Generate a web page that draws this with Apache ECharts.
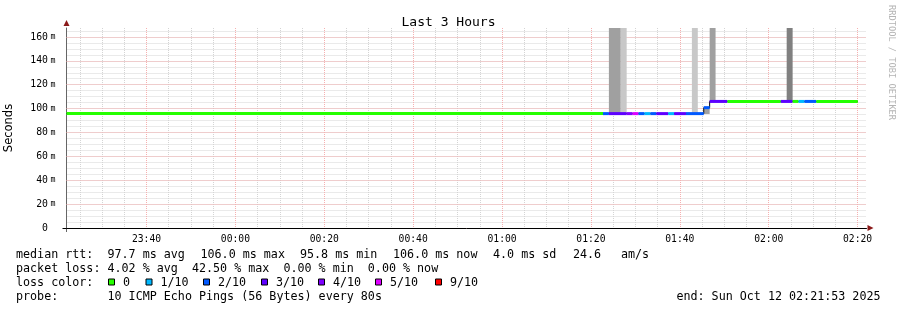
<!DOCTYPE html>
<html><head><meta charset="utf-8">
<script src="https://cdn.jsdelivr.net/npm/echarts@6/dist/echarts.min.js"></script>
<style>html,body{margin:0;padding:0;background:#fff}#c{width:897px;height:310px}</style>
</head><body><div id="c"></div>
<script>
// ---- time axis: minutes relative to 00:00 (Sun Oct 12) ----
const timeStart = -38.0;    // 23:22
const timeEnd = 142.0;      // 02:22
const yMax = 167.5;         // ms

// loss colour per lost pings (of 10)
const lossColors = {0:'#26ff00',1:'#00b8ff',2:'#0059ff',3:'#5e00ff',4:'#7e00ff',5:'#dd00ff',9:'#ff0000'};

// median rtt segments (minutes, ms, lost pings)
const segStart = [-38.0, 82.71, 84.04, 88.04, 89.38, 90.71, 92.04, 93.38, 94.71, 97.38, 98.71, 101.38, 105.38, 106.71, 110.71, 122.71, 125.38, 126.71, 128.04, 130.71];
const segEnd   = [82.71, 84.04, 88.04, 89.38, 90.71, 92.04, 93.38, 94.71, 97.38, 98.71, 101.38, 105.38, 106.71, 110.71, 122.71, 125.38, 126.71, 128.04, 130.71, 140.04];
const segValue = [ 95.8, 95.8, 95.8, 95.8, 95.8, 95.8, 95.8, 95.8, 95.8, 95.8, 95.8, 95.8, 100.8, 106.0, 106.0, 106.0, 106.0, 106.0, 106.0, 106.0];
const segLoss  = [ 0, 2, 3, 4, 5, 2, 1, 2, 3, 1, 3, 2, 2, 3, 0, 3, 0, 1, 2, 0];

// smoke (ping spread) columns
const smokeStart = [84.04, 86.71, 102.71, 105.38, 106.71, 124.04];
const smokeEnd   = [86.71, 88.04, 104.04, 106.71, 108.04, 125.38];
const smokeLow   = [95.8, 95.8, 95.8, 95.5, 106.0, 106.0];
const smokeHigh  = [175, 175, 175, 100.8, 175, 175];
const smokeShade = ['#a0a0a0', '#c8c8c8', '#c8c8c8', '#a0a0a0', '#a0a0a0', '#808080'];

// legend texts
const legendLabels = ['0', '1/10', '2/10', '3/10', '4/10', '5/10', '9/10'];
const legendLoss = [0, 1, 2, 3, 4, 5, 9];
const statsRtt = ['median rtt:', '97.7 ms avg', '106.0 ms max', '95.8 ms min', '106.0 ms now', '4.0 ms sd', '24.6', 'am/s'];
const statsLoss = 'packet loss: 4.02 % avg  42.50 % max  0.00 % min  0.00 % now';
const probeText = ['probe:', '10 ICMP Echo Pings (56 Bytes) every 80s'];
const endText = 'end: Sun Oct 12 02:21:53 2025';

// ---- layout ----
const L = 66.5, T = 28, W = 800, H = 200;
const pxPerMin = W / (timeEnd - timeStart);
const minorMin = -35, majorMin = -20;
const rttX = [16, 107.5, 200.5, 300, 393, 493, 573, 621];
const legendBoxX = [108.5, 146, 203.5, 261.5, 318.5, 375.5, 435.5];
const legendTextX = [123, 160.5, 218, 276, 333, 390, 450];
const rowY = [254.5, 268.5, 282.5, 296.5];
const MONO = '"DejaVu Sans Mono", monospace';
const FS = '11.7px ';
const minorC = '#d4d4d4', majorC = '#f5b0b0';

function fmtTime(v) {
  let m = Math.round(v);
  if (m < 0) m += 1440;
  const h = Math.floor(m / 60), mm = m % 60;
  return String(h).padStart(2, '0') + ':' + String(mm).padStart(2, '0');
}

const segData = segStart.map((s, i) => [s, segEnd[i], segValue[i], segLoss[i]]);
const smokeData = smokeStart.map((s, i) => [s, smokeEnd[i], smokeLow[i], smokeHigh[i], i]);
const stepLine = [];
segStart.forEach((s, i) => { stepLine.push([s, segValue[i]]); stepLine.push([segEnd[i], segValue[i]]); });

const graphic = [];
function txt(x, y, s, extra) {
  graphic.push(Object.assign({type: 'text', x: x, y: y, silent: true,
    style: {text: s, font: FS + MONO, fill: '#000', verticalAlign: 'middle'}}, extra || {}));
}
statsRtt.forEach((s, i) => txt(rttX[i], rowY[0], s));
txt(16, rowY[1], statsLoss);
txt(16, rowY[2], 'loss color:');
legendLabels.forEach((s, i) => {
  graphic.push({type: 'rect', silent: true, shape: {x: legendBoxX[i], y: rowY[2] - 3.5, width: 6, height: 6},
    style: {fill: lossColors[legendLoss[i]], stroke: '#000', lineWidth: 1}});
  txt(legendTextX[i], rowY[2], s);
});
txt(16, rowY[3], probeText[0]);
txt(107.5, rowY[3], probeText[1]);
graphic.push({type: 'text', x: 880.5, y: rowY[3], silent: true,
  style: {text: endText, font: FS + MONO, fill: '#000', verticalAlign: 'middle', align: 'right'}});
graphic.push({type: 'text', x: 891, y: 5, rotation: -Math.PI / 2, silent: true,
  style: {text: 'RRDTOOL / TOBI OETIKER', font: '8.7px ' + MONO, fill: '#b4b4b4', verticalAlign: 'middle', align: 'left'}});
// axis arrows and small axis overhangs
graphic.push({type: 'polygon', silent: true, shape: {points: [[867.5, 225], [867.5, 231], [873.5, 228]]}, style: {fill: '#8b1a1a'}});
graphic.push({type: 'polygon', silent: true, shape: {points: [[63.5, 26], [69.5, 26], [66.5, 20]]}, style: {fill: '#8b1a1a'}});
graphic.push({type: 'line', silent: true, shape: {x1: 62.5, y1: 228.5, x2: 66.5, y2: 228.5}, style: {stroke: '#000', lineWidth: 1}});
graphic.push({type: 'line', silent: true, shape: {x1: 66.5, y1: 228, x2: 66.5, y2: 232}, style: {stroke: '#666', lineWidth: 1}});

const gridB = L + (minorMin - timeStart) * pxPerMin;
const gridC = L + (majorMin - timeStart) * pxPerMin;

const chart = echarts.init(document.getElementById('c'), null, {renderer: 'canvas'});
chart.setOption({
  animation: false,
  backgroundColor: '#fff',
  title: {text: 'Last 3 Hours', left: 'center', top: 11,
    textStyle: {fontFamily: MONO, fontSize: 13, fontWeight: 'normal', color: '#000'}},
  grid: [
    {left: L, top: T, width: W, height: H, containLabel: false, outerBoundsMode: 'none'},
    {left: gridB, top: T, width: L + W - gridB, height: H, containLabel: false, outerBoundsMode: 'none'},
    {left: gridC, top: T, width: L + W - gridC, height: H, containLabel: false, outerBoundsMode: 'none'}
  ],
  xAxis: [
    {type: 'value', gridIndex: 0, min: timeStart, max: timeEnd, z: 2,
      axisLine: {show: true, onZero: false, lineStyle: {color: '#000', width: 1}},
      axisTick: {show: false}, axisLabel: {show: false}, splitLine: {show: false}},
    {type: 'value', gridIndex: 1, min: minorMin, max: timeEnd, interval: 5, z: 0,
      axisLine: {show: false, onZero: false}, axisTick: {show: false}, axisLabel: {show: false},
      splitLine: {show: true, showMaxLine: false, lineStyle: {color: minorC, type: [1, 1], width: 1}}},
    {type: 'value', gridIndex: 2, min: majorMin, max: timeEnd, interval: 20, z: 1,
      axisLine: {show: false, onZero: false}, axisTick: {show: false},
      axisLabel: {show: true, showMaxLabel: false, margin: 6, fontFamily: MONO, fontSize: 9.7, color: '#000',
        formatter: v => (Math.abs(v % 20) < 1e-6 ? fmtTime(v) : '')},
      splitLine: {show: true, showMaxLine: false, lineStyle: {color: majorC, type: [1, 1], width: 1}}}
  ],
  yAxis: [
    {type: 'value', gridIndex: 0, min: 0, max: yMax, interval: 5, z: 0,
      name: 'Seconds', nameLocation: 'middle', nameRotate: 90, nameGap: 51,
      nameTextStyle: {fontFamily: '"DejaVu Sans", sans-serif', fontSize: 11.5, color: '#000'},
      axisLine: {show: true, onZero: false, lineStyle: {color: '#666', width: 1}},
      axisTick: {show: false},
      axisLabel: {show: true, interval: 0, margin: 11, color: '#000',
        formatter: v => (Math.abs(v % 20) < 1e-6 ? (v === 0 ? '{d|0}{h|m}' : '{d|' + v + '}{u|m}') : ''),
        rich: {
          d: {fontFamily: MONO, fontSize: 9.8, color: '#000'},
          u: {fontFamily: MONO, fontSize: 8.3, color: '#000', padding: [0, 0, 0, 2.5]},
          h: {fontFamily: MONO, fontSize: 8.3, color: 'transparent', padding: [0, 0, 0, 2.5]}
        }},
      splitLine: {show: true, showMaxLine: false, lineStyle: {color: minorC, type: [1, 1], width: 1}}},
    {type: 'value', gridIndex: 1, min: 0, max: yMax, show: false, splitLine: {show: false}},
    {type: 'value', gridIndex: 2, min: 0, max: yMax, show: false, splitLine: {show: false}},
    {type: 'value', gridIndex: 0, min: 0, max: yMax, interval: 20, z: 1, position: 'left',
      axisLine: {show: false, onZero: false}, axisTick: {show: false}, axisLabel: {show: false},
      splitLine: {show: true, showMaxLine: false, lineStyle: {color: majorC, type: [1, 1], width: 1}}}
  ],
  graphic: graphic,
  series: [
    {type: 'custom', xAxisIndex: 0, yAxisIndex: 0, clip: true, z: 2,
      data: smokeData, encode: {x: [0, 1], y: [2, 3]},
      renderItem: (params, api) => {
        const p0 = api.coord([api.value(0), api.value(3)]);
        const p1 = api.coord([api.value(1), api.value(2)]);
        const c = params.coordSys;
        const top = Math.max(p0[1], c.y);
        return {type: 'rect', shape: {x: p0[0], y: top, width: p1[0] - p0[0], height: p1[1] - top},
          style: {fill: smokeShade[api.value(4)]}};
      }},
    {type: 'line', xAxisIndex: 0, yAxisIndex: 0, data: stepLine, symbol: 'none', z: 3,
      lineStyle: {color: '#000', width: 1}},
    {type: 'custom', xAxisIndex: 0, yAxisIndex: 0, clip: true, z: 4,
      data: segData, encode: {x: [0, 1], y: 2},
      renderItem: (params, api) => {
        const p0 = api.coord([api.value(0), api.value(2)]);
        const p1 = api.coord([api.value(1), api.value(2)]);
        return {type: 'line', shape: {x1: p0[0], y1: p0[1], x2: p1[0], y2: p1[1]},
          style: {stroke: lossColors[api.value(3)], lineWidth: 3}};
      }}
  ]
});
</script></body></html>
